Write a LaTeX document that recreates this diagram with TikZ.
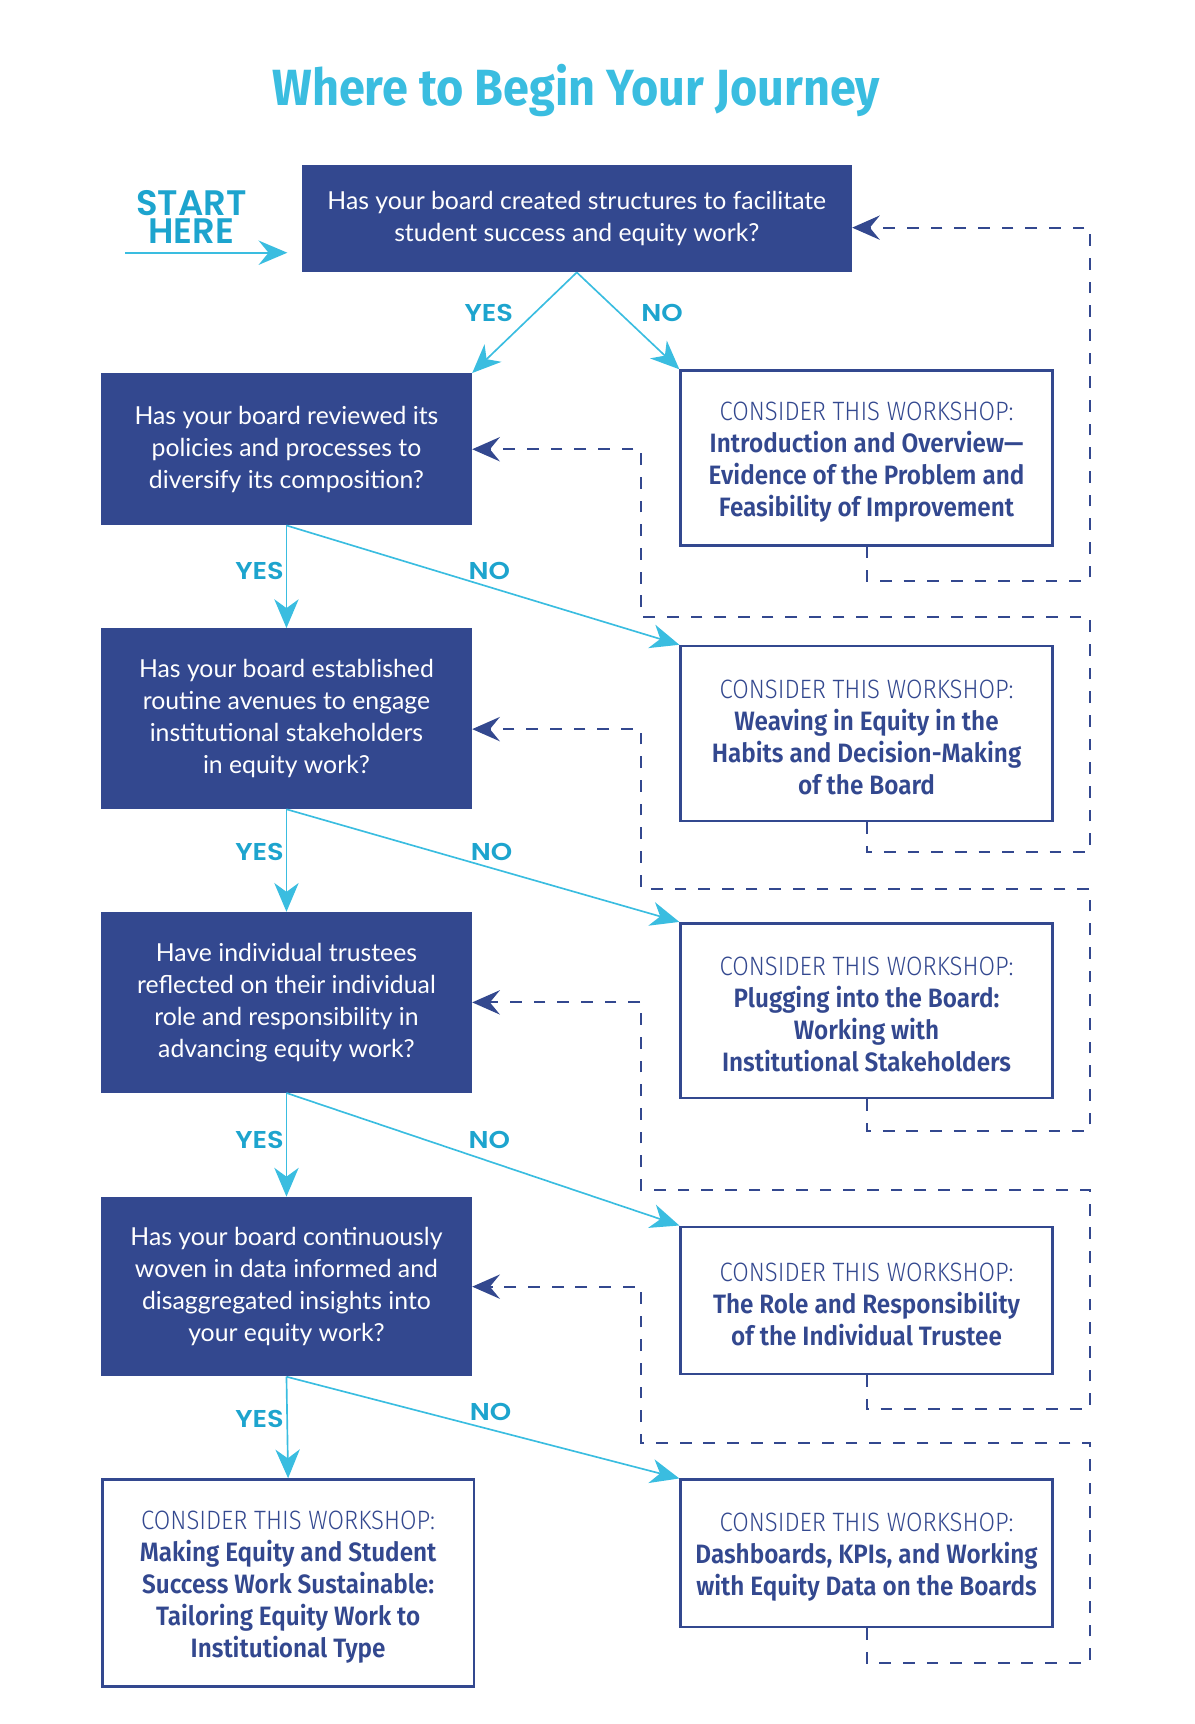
\documentclass[tikz,border=0pt]{standalone}
\usepackage{fontspec}
\setmainfont{Lato}
\newfontfamily\titlefont{Fira Sans Bold}[FakeStretch=0.92]
\newfontfamily\lightfont{Fira Sans Light}[FakeStretch=0.9]
\newfontfamily\semifont{Fira Sans SemiBold}[FakeStretch=0.915]
\newfontfamily\geofont{Poppins SemiBold}
\newfontfamily\answerfont{Poppins SemiBold}[FakeStretch=1.12]
\usetikzlibrary{arrows.meta}

\definecolor{navy}{HTML}{33488F}
\definecolor{sky}{HTML}{3ABDE0}
\definecolor{skydark}{HTML}{1DA4CE}

\tikzset{
  question/.style={fill=navy, text=white, minimum width=167.5pt, inner sep=0pt,
    align=center, font=\fontsize{11.2}{14.5}\selectfont},
  workshop/.style={draw=navy, line width=1.2pt, fill=white, text=navy,
    minimum width=168pt, inner sep=0pt, align=center,
    font=\semifont\fontsize{12}{14.4}\selectfont},
  answer/.style={text=skydark, font=\answerfont\fontsize{11}{12}\selectfont},
  starttext/.style={text=skydark, inner sep=0pt, font=\geofont\fontsize{16}{16}\selectfont},
  yesno/.style={sky, line width=0.75pt, -{Stealth[length=13pt, width=11pt, inset=4pt]}},
  backline/.style={navy, line width=0.9pt, dash pattern=on 5.3pt off 5.4pt,
    -{Stealth[length=12.5pt, width=11pt, inset=4.5pt]}},
}

\newcommand{\consider}{\rule{0pt}{12pt}{\lightfont CONSIDER THIS WORKSHOP:}\\}

\begin{document}
\begin{tikzpicture}[x=0.497pt, y=-0.497pt]
    \useasboundingbox (0,0) rectangle (1086.6,1567.7);

    % Title and start
    \node (title) at (524,82) {\titlefont\color{sky}\fontsize{23}{28}\selectfont Where to Begin Your Journey};
    \node[starttext] (start) at (174,185) {START};
    \node[starttext] (here) at (174,210) {HERE};
    \coordinate (startfrom) at (113.7,229.8);
    \coordinate (startto) at (261.3,229.8);
    \draw[sky, line width=0.9pt, -{Stealth[length=13pt, width=11pt, inset=4.5pt]}] (startfrom) -- (startto);

    % Questions
    \node[question, minimum width=248.5pt, minimum height=48.5pt] (q1) at (524.5,198.5)
        {Has your board created structures to facilitate\\student success and equity work?};
    \node[question, minimum height=68.5pt] (q2) at (260.5,408.5)
        {Has your board reviewed its\\policies and processes to\\diversify its composition?};
    \node[question, minimum height=81.5pt] (q3) at (260.5,653.5)
        {Has your board established\\routine avenues to engage\\institutional stakeholders\\in equity work?};
    \node[question, minimum height=81.5pt] (q4) at (260.5,911.5)
        {Have individual trustees\\reflected on their individual\\role and responsibility in\\advancing equity work?};
    \node[question, minimum height=81pt] (q5) at (260.5,1170)
        {Has your board continuously\\woven in data informed and\\disaggregated insights into\\your equity work?};

    % Workshops
    \node[workshop, minimum height=79pt] (w1) at (788,416.5)
        {\consider Introduction and Overview—\\Evidence of the Problem and\\Feasibility of Improvement};
    \node[workshop, minimum height=79pt] (w2) at (788,667)
        {\consider Weaving in Equity in the\\Habits and Decision-Making\\of the Board};
    \node[workshop, minimum height=79pt] (w3) at (788,919)
        {\consider Plugging into the Board:\\Working with\\Institutional Stakeholders};
    \node[workshop, minimum height=66.5pt] (w4) at (788,1182.5)
        {\consider The Role and Responsibility\\of the Individual Trustee};
    \node[workshop, minimum height=66.5pt] (w5) at (788,1412.5)
        {\consider Dashboards, KPIs, and Working\\with Equity Data on the Boards};
    \node[workshop, minimum height=93.5pt] (w6) at (262,1439.5)
        {\consider Making Equity and Student\\Success Work Sustainable:\\Tailoring Equity Work to\\Institutional Type};

    % Yes / no branches
    \draw[yesno] (q1.south) -- (q2.north east);
    \draw[yesno] (q1.south) -- (w1.north west);
    \draw[yesno] (q2.south) -- (q3.north);
    \draw[yesno] (q2.south) -- (w2.north west);
    \draw[yesno] (q3.south) -- (q4.north);
    \draw[yesno] (q3.south) -- (w3.north west);
    \draw[yesno] (q4.south) -- (q5.north);
    \draw[yesno] (q4.south) -- (w4.north west);
    \draw[yesno] (q5.south) -- (w6.north);
    \draw[yesno] (q5.south) -- (w5.north west);

    \node[answer] (yes1) at (444.5,285) {YES};
    \node[answer] (no1) at (602,285) {NO};
    \node[answer] (yes2) at (236,519) {YES};
    \node[answer] (no2) at (445,519) {NO};
    \node[answer] (yes3) at (236,775) {YES};
    \node[answer] (no3) at (447,775) {NO};
    \node[answer] (yes4) at (236,1037) {YES};
    \node[answer] (no4) at (445,1037) {NO};
    \node[answer] (yes5) at (236,1290) {YES};
    \node[answer] (no5) at (446,1284) {NO};

    % Back to the question after the workshop
    \draw[backline] (w1.south) |- (991,528) |- (q1.east |- 0,207);
    \draw[backline] (w2.south) |- (991,775) |- (583,561) |- (q2.east);
    \draw[backline] (w3.south) |- (991,1028) |- (583,808) |- (q3.east |- 0,663);
    \draw[backline] (w4.south) |- (991,1281) |- (583,1082) |- (q4.east);
    \draw[backline] (w5.south) |- (991,1512) |- (583,1312) |- (q5.east);
\end{tikzpicture}
\end{document}
